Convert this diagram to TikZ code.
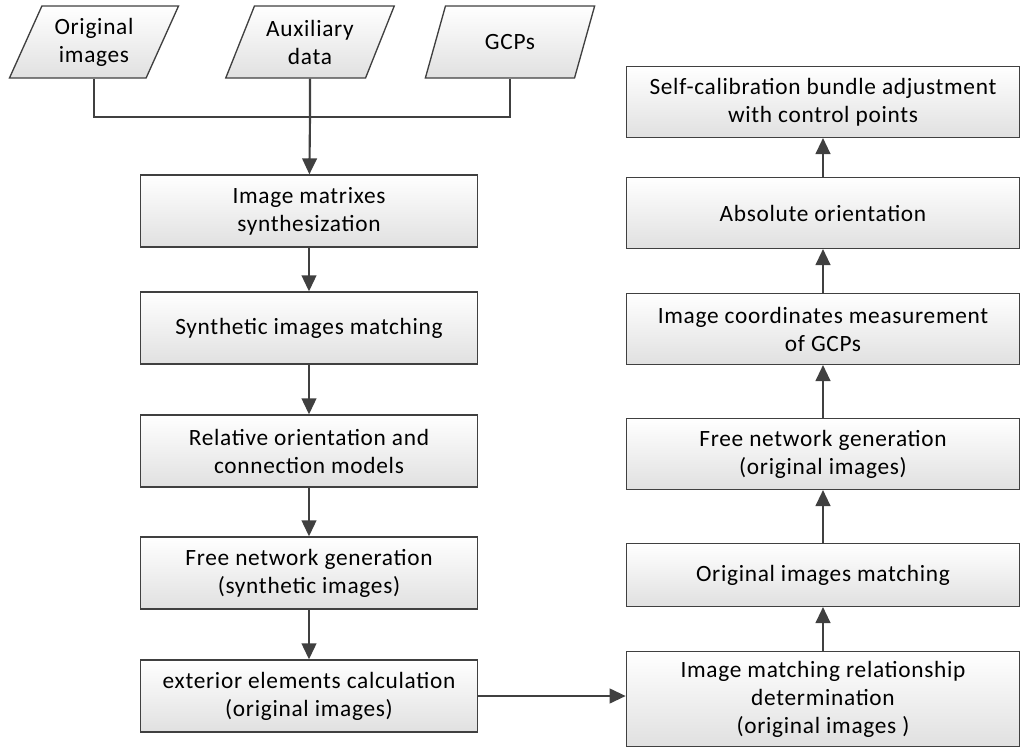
\documentclass[tikz,border=0pt]{standalone}
\usepackage{fontspec}
\setmainfont{Carlito}[LetterSpace=3]
\usetikzlibrary{shapes.geometric,arrows.meta}
\begin{document}
\begin{tikzpicture}[x=0.75pt,y=0.75pt,yscale=-1,xscale=1,
    font=\fontsize{17.5}{21}\selectfont,
    box/.style={draw=black!75,line width=1pt,top color=white,bottom color=black!12,
      align=center,inner sep=0pt},
    lbox/.style={box,minimum width=253pt,minimum height=54pt},
    rbox/.style={box,minimum width=295pt,minimum height=53pt},
    data/.style={box,trapezium,trapezium left angle=63,trapezium right angle=117,
      trapezium stretches=true,minimum width=127pt,minimum height=54pt},
    flow/.style={draw=black!75,line width=1.6pt,-{Triangle[length=12pt,width=11pt]}}]
\useasboundingbox (0,0) rectangle (1024,754);
% inputs
\node[data] (orig) at (94,42) {Original\\images};
\node[data] (aux) at (310,42) {Auxiliary\\data};
\node[data] (gcp) at (510,42) {GCPs};
% left column
\node[lbox] (synth) at (309,211) {Image matrixes\\synthesization};
\node[lbox] (smatch) at (309,328) {Synthetic images matching};
\node[lbox] (relor) at (309,451) {Relative orientation and\\connection models};
\node[lbox] (fnsyn) at (309,573) {Free network generation\\(synthetic images)};
\node[lbox] (exter) at (309,696) {exterior elements calculation\\(original images)};
% right column
\node[rbox,minimum height=71pt] (relat) at (823,699) {Image matching relationship\\determination\\(original images )};
\node[rbox,minimum height=47pt] (omatch) at (823,575) {Original images matching};
\node[rbox] (fnorig) at (823,454) {Free network generation\\(original images)};
\node[rbox] (measure) at (823,329) {Image coordinates measurement\\of GCPs};
\node[rbox] (absor) at (823,213) {Absolute orientation};
\node[rbox] (bundle) at (823,102) {Self-calibration bundle adjustment\\with control points};
% connectors
\coordinate (join) at (310,117);
\draw[draw=black!75,line width=1.6pt] (orig.south) |- (join) -| (gcp.south);
\draw[draw=black!75,line width=1.6pt] (aux.south) -- (join);
\draw[flow] (join) -- (synth);
\draw[flow] (synth) -- (smatch);
\draw[flow] (smatch) -- (relor);
\draw[flow] (relor) -- (fnsyn);
\draw[flow] (fnsyn) -- (exter);
\draw[flow] (exter.east) -- (exter.east -| relat.west);
\draw[flow] (relat) -- (omatch);
\draw[flow] (omatch) -- (fnorig);
\draw[flow] (fnorig) -- (measure);
\draw[flow] (measure) -- (absor);
\draw[flow] (absor) -- (bundle);
\end{tikzpicture}
\end{document}
